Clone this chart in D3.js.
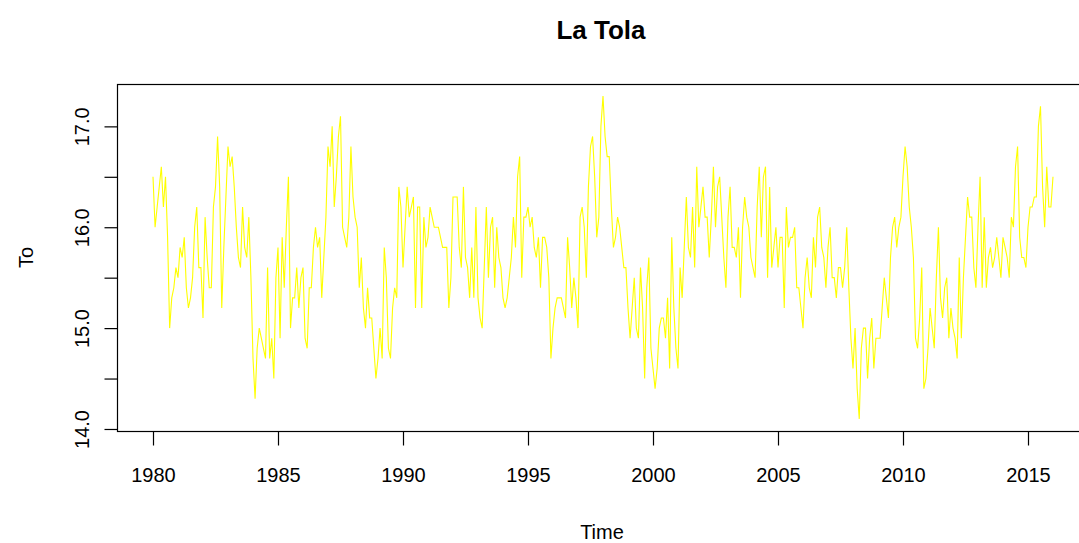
<!DOCTYPE html>
<html>
<head>
<meta charset="utf-8">
<script src="https://cdn.jsdelivr.net/npm/d3@7"></script>
<style>
  html, body { margin: 0; padding: 0; background: #fff; }
  svg { display: block; font-family: "Liberation Sans", Arial, sans-serif; }
</style>
</head>
<body>
<svg id="chart" width="1079" height="543"></svg>
<script>
// Monthly mean temperature, La Tola, starting January 1980
const startYear = 1980;
const monthsPerYear = 12;
const temps = [
  16.5, 16.0, 16.2, 16.4, 16.6, 16.2, 16.5, 15.9, 15.0, 15.3, 15.4, 15.6,
  15.5, 15.8, 15.7, 15.9, 15.4, 15.2, 15.3, 15.5, 16.0, 16.2, 15.6, 15.6,
  15.1, 16.1, 15.7, 15.4, 15.4, 16.2, 16.4, 16.9, 16.4, 15.2, 15.8, 16.3,
  16.8, 16.6, 16.7, 16.4, 16.0, 15.7, 15.6, 16.2, 15.8, 15.7, 16.1, 15.5,
  14.7, 14.3, 14.8, 15.0, 14.9, 14.8, 14.7, 15.6, 14.7, 14.9, 14.5, 15.5,
  15.8, 14.9, 15.9, 15.4, 16.0, 16.5, 15.0, 15.3, 15.3, 15.6, 15.2, 15.5,
  15.6, 14.9, 14.8, 15.4, 15.4, 15.8, 16.0, 15.8, 15.9, 15.3, 15.7, 16.1,
  16.8, 16.6, 17.0, 16.2, 16.5, 16.9, 17.1, 16.0, 15.9, 15.8, 16.1, 16.8,
  16.3, 16.1, 16.0, 15.4, 15.7, 15.2, 15.0, 15.4, 15.1, 15.1, 14.8, 14.5,
  14.7, 15.0, 14.7, 15.8, 15.5, 14.8, 14.7, 15.2, 15.4, 15.3, 16.4, 16.2,
  15.6, 16.0, 16.4, 16.1, 16.2, 16.3, 15.2, 16.2, 16.2, 15.2, 16.1, 15.8,
  15.9, 16.2, 16.1, 16.0, 16.0, 16.0, 15.9, 15.8, 15.8, 15.8, 15.2, 15.5,
  16.3, 16.3, 16.3, 15.8, 15.6, 16.4, 15.7, 15.6, 15.3, 15.8, 15.3, 16.2,
  15.3, 15.1, 15.0, 15.6, 16.2, 15.5, 16.0, 16.1, 15.4, 16.0, 15.7, 15.6,
  15.3, 15.2, 15.3, 15.5, 15.7, 16.1, 15.8, 16.5, 16.7, 15.5, 16.1, 16.1,
  16.2, 16.0, 16.1, 15.8, 15.7, 15.9, 15.4, 15.9, 15.9, 15.8, 15.5, 14.7,
  15.0, 15.2, 15.3, 15.3, 15.3, 15.2, 15.1, 15.9, 15.6, 15.2, 15.5, 15.3,
  15.0, 16.1, 16.2, 16.0, 15.5, 16.4, 16.8, 16.9, 16.5, 15.9, 16.1, 17.0,
  17.3, 16.9, 16.7, 16.7, 16.2, 15.8, 15.9, 16.1, 16.0, 15.8, 15.6, 15.6,
  15.2, 14.9, 15.2, 15.5, 15.0, 14.9, 15.6, 15.2, 14.5, 15.4, 15.7, 14.8,
  14.6, 14.4, 14.6, 15.0, 15.1, 15.1, 14.9, 15.3, 14.6, 15.9, 15.2, 14.8,
  14.6, 15.6, 15.3, 15.8, 16.3, 15.8, 15.7, 16.2, 15.6, 16.6, 16.0, 16.2,
  16.4, 16.1, 16.1, 15.7, 16.1, 16.6, 16.0, 16.4, 16.5, 16.1, 15.7, 15.4,
  16.1, 16.4, 15.8, 15.8, 15.7, 16.0, 15.3, 16.0, 16.3, 16.1, 16.0, 15.7,
  15.6, 15.5, 16.2, 16.6, 15.9, 16.5, 16.6, 15.5, 16.4, 15.6, 15.8, 16.0,
  15.6, 15.9, 15.9, 15.2, 16.2, 15.8, 15.9, 15.9, 16.0, 15.4, 15.4, 15.2,
  15.0, 15.5, 15.7, 15.4, 15.3, 15.9, 15.6, 16.1, 16.2, 15.8, 15.7, 15.4,
  15.8, 16.0, 15.5, 15.5, 15.3, 15.6, 15.6, 15.4, 15.6, 16.0, 15.4, 14.9,
  14.6, 15.0, 14.4, 14.1, 14.8, 15.0, 15.0, 14.5, 14.9, 15.1, 14.6, 14.9,
  14.9, 14.9, 15.2, 15.5, 15.3, 15.1, 15.7, 16.0, 16.1, 15.8, 16.0, 16.1,
  16.5, 16.8, 16.6, 16.2, 16.0, 15.7, 14.9, 14.8, 15.1, 15.6, 14.4, 14.5,
  14.8, 15.2, 15.0, 14.8, 15.5, 16.0, 15.3, 15.1, 15.4, 15.5, 14.9, 15.2,
  15.0, 14.9, 14.7, 15.7, 14.9, 15.5, 15.9, 16.3, 16.1, 16.1, 15.6, 15.4,
  16.0, 16.5, 15.4, 16.1, 15.4, 15.7, 15.8, 15.6, 15.7, 15.9, 15.7, 15.5,
  15.9, 15.8, 15.7, 15.5, 16.1, 16.0, 16.6, 16.8, 15.9, 15.7, 15.7, 15.6,
  16.0, 16.2, 16.2, 16.3, 16.3, 17.0, 17.2, 16.4, 16.0, 16.6, 16.2, 16.2,
  16.5
];
const yTicks = [14.0, 14.5, 15.0, 15.5, 16.0, 16.5, 17.0];
const yLabels = [14.0, 15.0, 16.0, 17.0];
const xTicks = [1980, 1985, 1990, 1995, 2000, 2005, 2010, 2015];
const titleText = "La Tola";
const xTitle = "Time";
const yTitle = "To";

const series = temps.map((v, i) => ({ t: startYear + i / monthsPerYear, v }));

// Plot region (the right edge of the frame runs past the canvas)
const plotLeft = 117, plotRight = 1089, plotTop = 84, plotBottom = 431;

const x = d3.scaleLinear().domain([1978.56, 2017.44]).range([plotLeft, plotRight]);
const y = d3.scaleLinear().domain([13.98, 17.42]).range([plotBottom, plotTop]);

const svg = d3.select("#chart");

// Line
svg.append("path")
  .datum(series)
  .attr("fill", "none")
  .attr("stroke", "#ffff00")
  .attr("stroke-width", 1.1)
  .attr("d", d3.line().x(d => x(d.t)).y(d => y(d.v)));

// Frame
svg.append("rect")
  .attr("x", plotLeft + 0.5).attr("y", plotTop + 0.5)
  .attr("width", plotRight - plotLeft).attr("height", plotBottom - plotTop)
  .attr("fill", "none").attr("stroke", "#000").attr("stroke-width", 1.2);

// X axis
const xAxis = svg.append("g")
  .attr("transform", `translate(0,${plotBottom + 0.5})`)
  .call(d3.axisBottom(x).tickValues(xTicks).tickFormat(d3.format("d"))
    .tickSize(14).tickSizeOuter(0).tickPadding(22));
xAxis.select(".domain").remove();
xAxis.selectAll(".tick line").attr("stroke", "#000").attr("stroke-width", 1.2);
xAxis.selectAll(".tick text")
  .attr("fill", "#000").attr("font-size", 20)
  .attr("font-family", "Liberation Sans, Arial, sans-serif");

// Y axis
const yAxis = svg.append("g")
  .attr("transform", `translate(${plotLeft + 0.5},0)`)
  .call(d3.axisLeft(y).tickValues(yTicks)
    .tickFormat(d => yLabels.includes(d) ? d3.format(".1f")(d) : "")
    .tickSize(13).tickSizeOuter(0));
yAxis.select(".domain").remove();
yAxis.selectAll(".tick line").attr("stroke", "#000").attr("stroke-width", 1.2);
yAxis.selectAll(".tick text")
  .attr("fill", "#000").attr("font-size", 20)
  .attr("font-family", "Liberation Sans, Arial, sans-serif")
  .attr("text-anchor", "middle")
  .attr("x", null).attr("dy", null)
  .attr("transform", "translate(-29,0) rotate(-90)");

// Titles
svg.append("text")
  .attr("x", 601).attr("y", 39)
  .attr("text-anchor", "middle")
  .attr("font-size", 26).attr("font-weight", "bold").attr("fill", "#000")
  .text(titleText);

svg.append("text")
  .attr("x", 602).attr("y", 539)
  .attr("text-anchor", "middle")
  .attr("font-size", 20).attr("fill", "#000")
  .text(xTitle);

svg.append("text")
  .attr("transform", `translate(33,${(plotTop + plotBottom) / 2}) rotate(-90)`)
  .attr("text-anchor", "middle")
  .attr("font-size", 20).attr("fill", "#000")
  .text(yTitle);
</script>
</body>
</html>
